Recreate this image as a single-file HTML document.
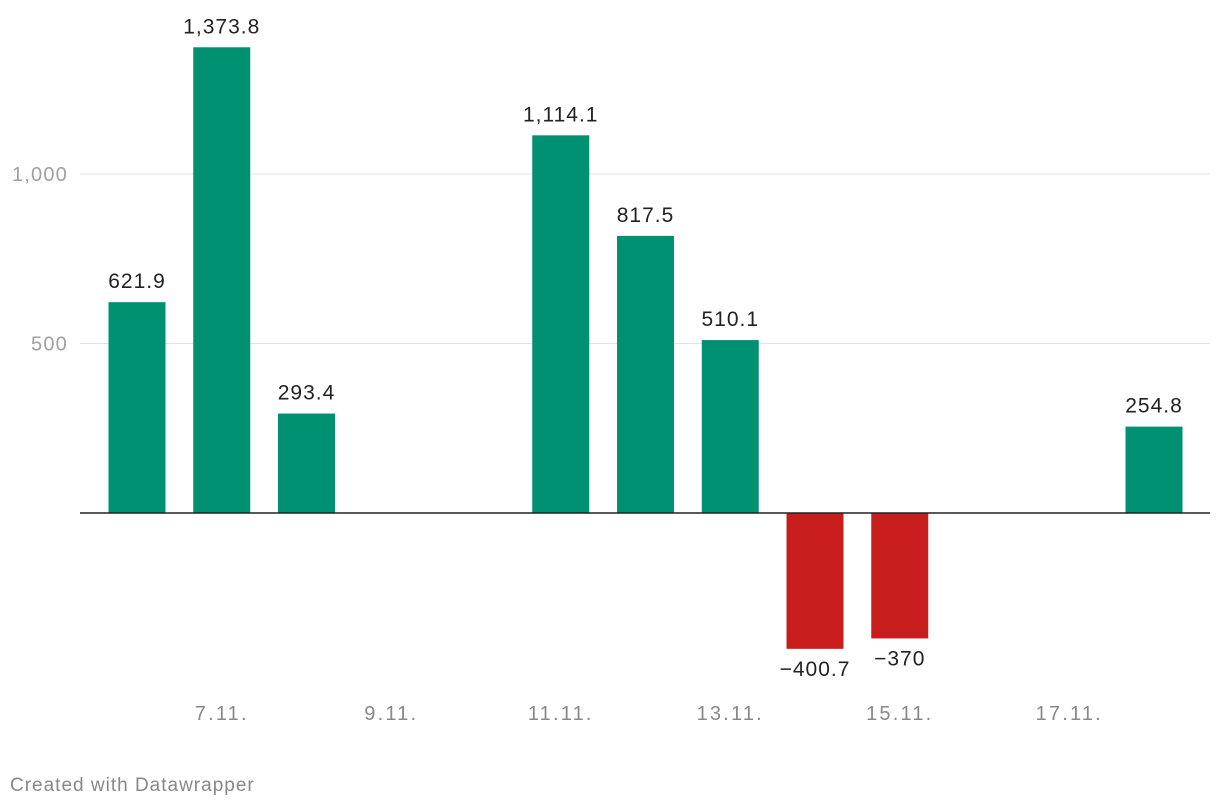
<!DOCTYPE html>
<html><head><meta charset="utf-8"><style>
body{margin:0;background:#fff;font-family:"Liberation Sans",Roboto,sans-serif;}
svg{display:block}
</style></head><body>
<svg id="chart" width="1220" height="808" xmlns="http://www.w3.org/2000/svg"></svg>
<script>
const categories=["6.11.","7.11.","8.11.","9.11.","10.11.","11.11.","12.11.","13.11.","14.11.","15.11.","16.11.","17.11.","18.11."];
const values=[621.9,1373.8,293.4,null,null,1114.1,817.5,510.1,-400.7,-370,null,null,254.8];
const valueLabels=["621.9","1,373.8","293.4","","","1,114.1","817.5","510.1","−400.7","−370","","","254.8"];
const yTicks=[500,1000];
const yTickLabels=["500","1,000"];
const xTickShown=["7.11.","9.11.","11.11.","13.11.","15.11.","17.11."];

const svg=document.getElementById('chart');
const NS="http://www.w3.org/2000/svg";
const y0=513, scale=339/1000;
const y=v=>y0-v*scale;
const x=i=>137+i*84.75;
const bw=57;
function mk(tag,attrs,text){const e=document.createElementNS(NS,tag);for(const k in attrs)e.setAttribute(k,attrs[k]);if(text!==undefined)e.textContent=text;svg.appendChild(e);return e;}

yTicks.forEach((t,i)=>{
  const g=mk('line',{x1:80,x2:1210,y1:y(t),y2:y(t),stroke:'#e3e3e3','stroke-width':1});
  
  
  const l=mk('text',{x:68,y:y(t)+7,'text-anchor':'end','font-size':20,'letter-spacing':1.2,fill:'#a0a0a0'},yTickLabels[i]);
  
  
});

values.forEach((v,i)=>{
  if(v===null)return;
  const top=Math.min(y(v),y0),h=Math.abs(y(v)-y0);
  const r=mk('rect',{x:x(i)-bw/2,y:top,width:bw,height:h,fill:v>=0?'#009172':'#c71e1d'});
  
  
  const ty=v>=0?y(v)-14:y(v)+27;
  const t=mk('text',{x:x(i),y:ty,'text-anchor':'middle','font-size':21,'letter-spacing':1,fill:'#222'},valueLabels[i]);
  
  
});

const base=mk('line',{x1:80,x2:1210,y1:y0,y2:y0,stroke:'#222','stroke-width':1.5});



categories.forEach((c,i)=>{
  if(!xTickShown.includes(c))return;
  const t=mk('text',{x:x(i),y:720,'text-anchor':'middle','font-size':20,'letter-spacing':2.2,fill:'#888'},c);
  
  
});

const f=mk('text',{x:10,y:791,'font-size':19,'letter-spacing':1,fill:'#888'},'Created with Datawrapper');


</script>
</body></html>
